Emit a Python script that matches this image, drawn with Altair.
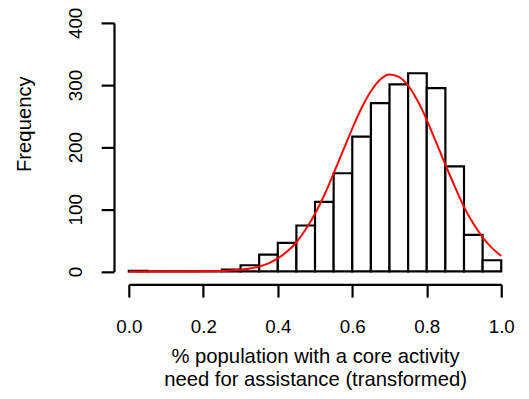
import altair as alt
import pandas as pd

# Histogram bins (left edges, width 0.05) and counts
bin_start = [0.00, 0.05, 0.10, 0.15, 0.20, 0.25, 0.30, 0.35, 0.40, 0.45,
             0.50, 0.55, 0.60, 0.65, 0.70, 0.75, 0.80, 0.85, 0.90, 0.95]
counts = [1, 0, 0, 0, 0, 3, 10, 27, 46, 74,
          112, 158, 217, 271, 301, 319, 295, 169, 59, 18]
bin_width = 0.05

# Red fitted curve
curve_x = [0.00, 0.05, 0.10, 0.15, 0.20, 0.25, 0.275, 0.30, 0.325, 0.35, 0.375,
           0.40, 0.425, 0.45, 0.475, 0.50, 0.525, 0.55, 0.575, 0.60, 0.625,
           0.65, 0.675, 0.70, 0.725, 0.75, 0.775, 0.80, 0.825, 0.85, 0.875,
           0.90, 0.925, 0.95, 0.975, 1.00]
curve_y = [0, 0, 0, 0, 0.2, 0.8, 1.5, 2.7, 4.7, 8, 13,
           21, 32, 47, 68, 93, 123, 158, 194, 230, 263,
           290, 309, 317, 313, 299, 275, 244, 208, 172, 137,
           104, 77, 55, 38, 25]

x_ticks = [0.0, 0.2, 0.4, 0.6, 0.8, 1.0]
y_ticks = [0, 100, 200, 300, 400]

x_title = ["% population with a core activity", "need for assistance (transformed)"]
y_title = "Frequency"

FONT = "Liberation Sans"

bars_df = pd.DataFrame({
    "x": bin_start,
    "x2": [b + bin_width for b in bin_start],
    "count": counts,
})
curve_df = pd.DataFrame({"x": curve_x, "y": curve_y})

xscale = alt.Scale(domain=[0, 1], nice=False, zero=False)
yscale = alt.Scale(domain=[0, 400], nice=False)

bars = alt.Chart(bars_df).mark_rect(
    fill="white", stroke="black", strokeWidth=2.2
).encode(
    x=alt.X("x:Q", scale=xscale, axis=alt.Axis(
        values=x_ticks, format=".1f", offset=13, tickSize=13,
        labelPadding=21, labelFontSize=19, labelFont=FONT, labelColor="black",
        domainColor="black", tickColor="black", domainWidth=2.2, tickWidth=2.2,
        grid=False, labelFlush=False,
        title=x_title,
        titleFont=FONT, titleFontSize=20.5, titleFontWeight="normal", titleColor="black",
        titleY=63, titleLineHeight=23, titleBaseline="top",
    )),
    x2="x2:Q",
    y=alt.Y("count:Q", scale=yscale, axis=alt.Axis(
        values=y_ticks, offset=15, tickSize=13, labelAngle=270,
        labelAlign="center", labelBaseline="bottom", labelPadding=16,
        labelFontSize=19, labelFont=FONT, labelColor="black",
        domainColor="black", tickColor="black", domainWidth=2.2, tickWidth=2.2,
        grid=False, labelFlush=False,
        title=y_title, titleFont=FONT, titleFontSize=20.5,
        titleFontWeight="normal", titleColor="black",
        titleX=-81, titleY=102, titleAngle=270, titleAlign="center",
        titleBaseline="bottom",
    )),
    y2=alt.datum(0),
)

curve = alt.Chart(curve_df).mark_line(
    color="red", strokeWidth=2, interpolate="monotone"
).encode(
    x=alt.X("x:Q", scale=xscale),
    y=alt.Y("y:Q", scale=yscale),
)

chart = alt.layer(bars, curve).properties(
    width=377, height=251.6,
    autosize=alt.AutoSizeParams(type="none"),
    padding={"left": 122.3, "top": 12.7, "right": 20, "bottom": 125},
).configure_view(stroke=None)

chart.save("out.html", embed_options={"renderer": "svg", "actions": False})
